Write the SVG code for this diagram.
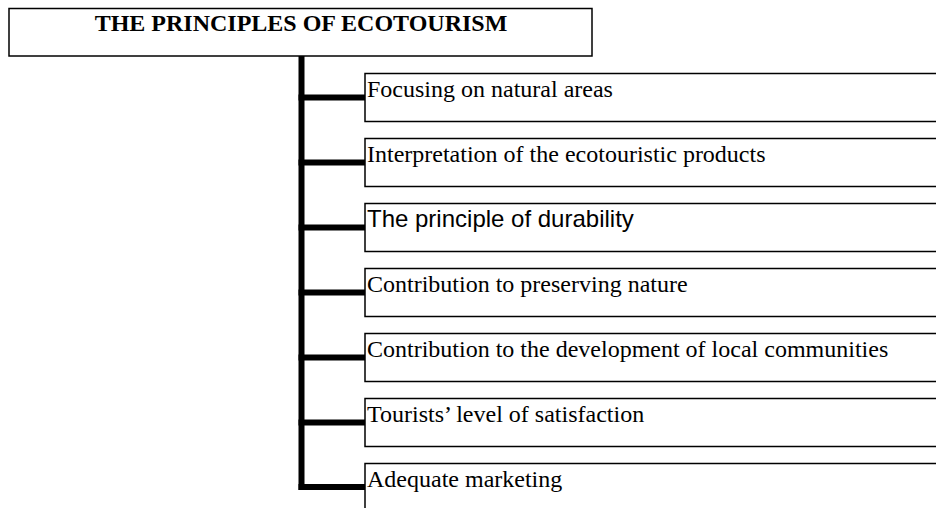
<svg xmlns="http://www.w3.org/2000/svg" width="936" height="508" viewBox="0 0 936 508">
<style>
.box{fill:#fff;stroke:#000;stroke-width:1.5}
.t{font-family:"Liberation Serif","Times New Roman",serif;font-size:24px;fill:#000}
.s{font-family:"Liberation Sans",Arial,sans-serif;font-size:24px;fill:#000}
.title{font-family:"Liberation Serif","Times New Roman",serif;font-size:24px;font-weight:bold;fill:#000}
.c{stroke:#000;stroke-width:6;fill:none}
</style>
<rect width="936" height="508" fill="#fff"/>
<g id="connectors">
<line class="c" x1="301.5" y1="56" x2="301.5" y2="490"/>
<line class="c" x1="298.5" y1="97.5" x2="366" y2="97.5"/>
<line class="c" x1="298.5" y1="162.5" x2="366" y2="162.5"/>
<line class="c" x1="298.5" y1="227.5" x2="366" y2="227.5"/>
<line class="c" x1="298.5" y1="292.5" x2="366" y2="292.5"/>
<line class="c" x1="298.5" y1="357.5" x2="366" y2="357.5"/>
<line class="c" x1="298.5" y1="422.5" x2="366" y2="422.5"/>
<line class="c" x1="298.5" y1="487" x2="366" y2="487"/>
</g>
<g id="title">
<rect class="box" x="9" y="8.5" width="583" height="47.5"/>
<text class="title" x="301" y="31" text-anchor="middle">THE PRINCIPLES OF ECOTOURISM</text>
</g>
<g id="n1">
<rect class="box" x="365" y="73.5" width="600" height="48"/>
<text class="t" x="367" y="97">Focusing on natural areas</text>
</g>
<g id="n2">
<rect class="box" x="365" y="138.5" width="600" height="48"/>
<text class="t" x="367" y="162">Interpretation of the ecotouristic products</text>
</g>
<g id="n3">
<rect class="box" x="365" y="203.5" width="600" height="48"/>
<text class="s" x="367" y="227">The principle of durability</text>
</g>
<g id="n4">
<rect class="box" x="365" y="268.5" width="600" height="48"/>
<text class="t" x="367" y="292">Contribution to preserving nature</text>
</g>
<g id="n5">
<rect class="box" x="365" y="333.5" width="600" height="48"/>
<text class="t" x="367" y="357">Contribution to the development of local communities</text>
</g>
<g id="n6">
<rect class="box" x="365" y="398.5" width="600" height="48"/>
<text class="t" x="367" y="422">Tourists’ level of satisfaction</text>
</g>
<g id="n7">
<rect class="box" x="365" y="463.5" width="600" height="60"/>
<text class="t" x="367" y="487">Adequate marketing</text>
</g>
</svg>
